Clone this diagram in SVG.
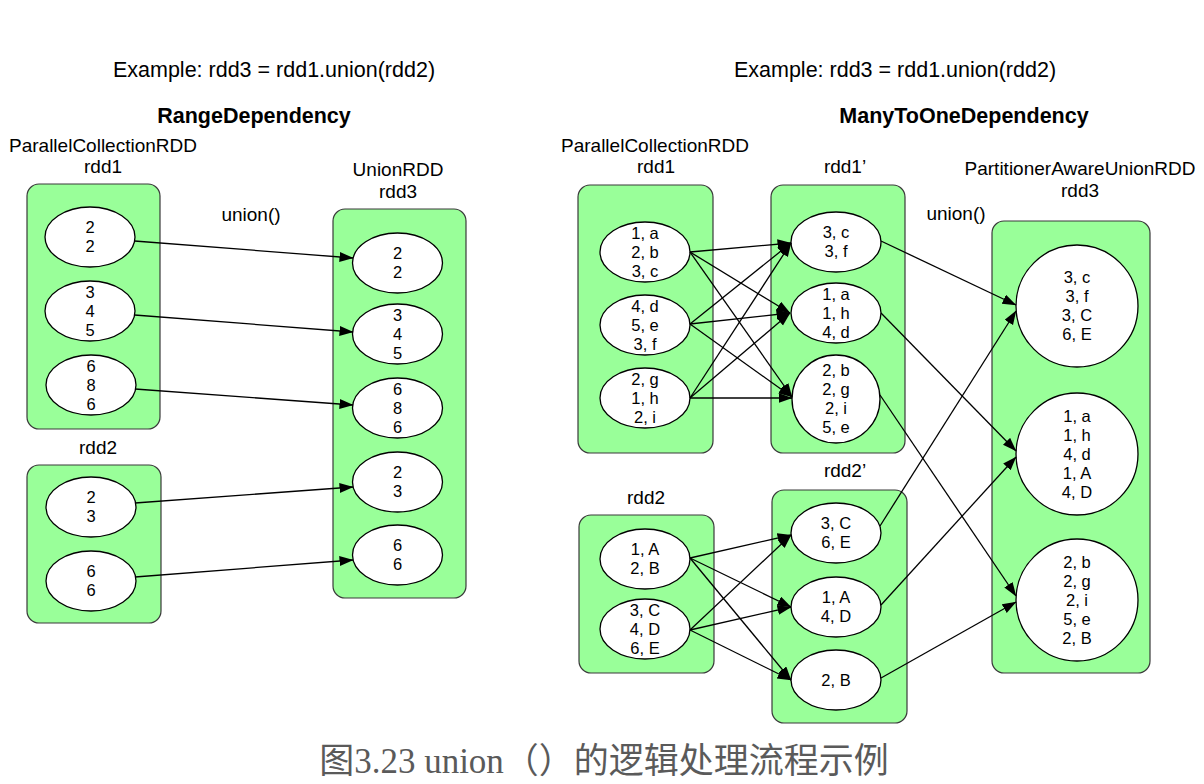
<svg xmlns="http://www.w3.org/2000/svg" width="1204" height="784" viewBox="0 0 1204 784">
<defs>
<marker id="ah" markerUnits="userSpaceOnUse" markerWidth="14" markerHeight="11" refX="13.5" refY="5" orient="auto">
<path d="M0,0 L14,5 L0,10 z" fill="#000"/>
</marker>
<style>
.box{fill:#99ff99;stroke:#3a3a3a;stroke-width:1.2}
.part{fill:#fff;stroke:#000;stroke-width:1.3}
.t{font-family:"Liberation Sans",Arial,sans-serif;fill:#000;text-anchor:middle}
.lbl{font-size:19px}
.ttl{font-size:21.5px}
.bold{font-size:21.5px;font-weight:bold}
.pt{font-size:16.5px}
.cap{font-family:"Liberation Serif","Noto Sans CJK SC",serif;font-size:35px;fill:#5a5a5a;text-anchor:middle}
#connectors line{stroke:#000;stroke-width:1.3;marker-end:url(#ah)}
</style>
</defs>
<rect width="1204" height="784" fill="#fff"/>

<g id="titles">
<text class="t ttl" x="274" y="77">Example: rdd3 = rdd1.union(rdd2)</text>
<text class="t bold" x="254" y="123">RangeDependency</text>
<text class="t ttl" x="895" y="77">Example: rdd3 = rdd1.union(rdd2)</text>
<text class="t bold" x="964" y="123">ManyToOneDependency</text>
<text class="t lbl" x="251" y="221">union()</text>
<text class="t lbl" x="956" y="220">union()</text>
</g>

<!-- LEFT: RangeDependency -->
<g id="L-rdd1">
<text class="t lbl" x="103" y="152">ParallelCollectionRDD</text>
<text class="t lbl" x="103" y="173">rdd1</text>
<rect class="box" x="27" y="184" width="133" height="245" rx="12"/>
</g>
<g id="L-rdd2">
<text class="t lbl" x="98" y="454">rdd2</text>
<rect class="box" x="27" y="465" width="134" height="158" rx="12"/>
</g>
<g id="L-rdd3">
<text class="t lbl" x="398" y="176">UnionRDD</text>
<text class="t lbl" x="398" y="198">rdd3</text>
<rect class="box" x="333" y="209" width="133" height="389" rx="12"/>
</g>

<g id="L-rdd1-p1"><ellipse class="part" cx="90" cy="237" rx="45" ry="30"/><text class="t pt" x="90" y="233">2</text><text class="t pt" x="90" y="252">2</text></g>
<g id="L-rdd1-p2"><ellipse class="part" cx="90" cy="311" rx="45" ry="30"/><text class="t pt" x="90" y="298">3</text><text class="t pt" x="90" y="317">4</text><text class="t pt" x="90" y="336">5</text></g>
<g id="L-rdd1-p3"><ellipse class="part" cx="91" cy="385" rx="45" ry="30"/><text class="t pt" x="91" y="372">6</text><text class="t pt" x="91" y="391">8</text><text class="t pt" x="91" y="410">6</text></g>
<g id="L-rdd2-p1"><ellipse class="part" cx="91" cy="507" rx="45" ry="30"/><text class="t pt" x="91" y="503">2</text><text class="t pt" x="91" y="522">3</text></g>
<g id="L-rdd2-p2"><ellipse class="part" cx="91" cy="581" rx="45" ry="30"/><text class="t pt" x="91" y="577">6</text><text class="t pt" x="91" y="596">6</text></g>
<g id="L-rdd3-p1"><ellipse class="part" cx="397.5" cy="263" rx="45" ry="30"/><text class="t pt" x="397.5" y="259">2</text><text class="t pt" x="397.5" y="278">2</text></g>
<g id="L-rdd3-p2"><ellipse class="part" cx="397.5" cy="334" rx="45" ry="30"/><text class="t pt" x="397.5" y="321">3</text><text class="t pt" x="397.5" y="340">4</text><text class="t pt" x="397.5" y="359">5</text></g>
<g id="L-rdd3-p3"><ellipse class="part" cx="397.5" cy="408" rx="45" ry="30"/><text class="t pt" x="397.5" y="395">6</text><text class="t pt" x="397.5" y="414">8</text><text class="t pt" x="397.5" y="433">6</text></g>
<g id="L-rdd3-p4"><ellipse class="part" cx="397.5" cy="482" rx="45" ry="30"/><text class="t pt" x="397.5" y="478">2</text><text class="t pt" x="397.5" y="497">3</text></g>
<g id="L-rdd3-p5"><ellipse class="part" cx="397.5" cy="555" rx="45" ry="30"/><text class="t pt" x="397.5" y="551">6</text><text class="t pt" x="397.5" y="570">6</text></g>

<!-- RIGHT: ManyToOneDependency -->
<g id="R-rdd1">
<text class="t lbl" x="655" y="152">ParallelCollectionRDD</text>
<text class="t lbl" x="656" y="173">rdd1</text>
<rect class="box" x="578" y="185" width="135" height="268" rx="12"/>
</g>
<g id="R-rdd1p">
<text class="t lbl" x="845" y="173">rdd1’</text>
<rect class="box" x="771" y="185" width="134" height="268" rx="12"/>
</g>
<g id="R-rdd2">
<text class="t lbl" x="646" y="504">rdd2</text>
<rect class="box" x="579" y="515" width="135" height="158" rx="12"/>
</g>
<g id="R-rdd2p">
<text class="t lbl" x="845" y="477">rdd2’</text>
<rect class="box" x="772" y="490" width="135" height="233" rx="12"/>
</g>
<g id="R-rdd3">
<text class="t lbl" x="1080" y="175">PartitionerAwareUnionRDD</text>
<text class="t lbl" x="1080" y="197">rdd3</text>
<rect class="box" x="992" y="221" width="158" height="452" rx="12"/>
</g>

<g id="R-rdd1-p1"><ellipse class="part" cx="645" cy="252" rx="45" ry="30"/><text class="t pt" x="645" y="239">1, a</text><text class="t pt" x="645" y="258">2, b</text><text class="t pt" x="645" y="277">3, c</text></g>
<g id="R-rdd1-p2"><ellipse class="part" cx="645" cy="325" rx="45" ry="30"/><text class="t pt" x="645" y="312">4, d</text><text class="t pt" x="645" y="331">5, e</text><text class="t pt" x="645" y="350">3, f</text></g>
<g id="R-rdd1-p3"><ellipse class="part" cx="645" cy="398" rx="45" ry="30"/><text class="t pt" x="645" y="385">2, g</text><text class="t pt" x="645" y="404">1, h</text><text class="t pt" x="645" y="423">2, i</text></g>

<g id="R-rdd1p-p1"><ellipse class="part" cx="836" cy="242" rx="45" ry="30"/><text class="t pt" x="836" y="238">3, c</text><text class="t pt" x="836" y="257">3, f</text></g>
<g id="R-rdd1p-p2"><ellipse class="part" cx="836" cy="313" rx="45" ry="30"/><text class="t pt" x="836" y="300">1, a</text><text class="t pt" x="836" y="319">1, h</text><text class="t pt" x="836" y="338">4, d</text></g>
<g id="R-rdd1p-p3"><ellipse class="part" cx="836" cy="399" rx="44" ry="44"/><text class="t pt" x="836" y="376">2, b</text><text class="t pt" x="836" y="395">2, g</text><text class="t pt" x="836" y="414">2, i</text><text class="t pt" x="836" y="433">5, e</text></g>

<g id="R-rdd2-p1"><ellipse class="part" cx="645" cy="559" rx="45" ry="30"/><text class="t pt" x="645" y="555">1, A</text><text class="t pt" x="645" y="574">2, B</text></g>
<g id="R-rdd2-p2"><ellipse class="part" cx="645" cy="629" rx="45" ry="30"/><text class="t pt" x="645" y="616">3, C</text><text class="t pt" x="645" y="635">4, D</text><text class="t pt" x="645" y="654">6, E</text></g>

<g id="R-rdd2p-p1"><ellipse class="part" cx="836" cy="533" rx="45" ry="30"/><text class="t pt" x="836" y="529">3, C</text><text class="t pt" x="836" y="548">6, E</text></g>
<g id="R-rdd2p-p2"><ellipse class="part" cx="836" cy="607" rx="45" ry="30"/><text class="t pt" x="836" y="603">1, A</text><text class="t pt" x="836" y="622">4, D</text></g>
<g id="R-rdd2p-p3"><ellipse class="part" cx="836" cy="680" rx="45" ry="30"/><text class="t pt" x="836" y="686">2, B</text></g>

<g id="R-rdd3-p1"><circle class="part" cx="1077" cy="306" r="61"/><text class="t pt" x="1077" y="283">3, c</text><text class="t pt" x="1077" y="302">3, f</text><text class="t pt" x="1077" y="321">3, C</text><text class="t pt" x="1077" y="340">6, E</text></g>
<g id="R-rdd3-p2"><circle class="part" cx="1077" cy="454" r="61"/><text class="t pt" x="1077" y="422">1, a</text><text class="t pt" x="1077" y="441">1, h</text><text class="t pt" x="1077" y="460">4, d</text><text class="t pt" x="1077" y="479">1, A</text><text class="t pt" x="1077" y="498">4, D</text></g>
<g id="R-rdd3-p3"><circle class="part" cx="1077" cy="600" r="61"/><text class="t pt" x="1077" y="568">2, b</text><text class="t pt" x="1077" y="587">2, g</text><text class="t pt" x="1077" y="606">2, i</text><text class="t pt" x="1077" y="625">5, e</text><text class="t pt" x="1077" y="644">2, B</text></g>

<g id="connectors">
<line x1="134.5" y1="241" x2="353" y2="258"/>
<line x1="134.5" y1="315" x2="353" y2="332"/>
<line x1="135" y1="389" x2="353" y2="405"/>
<line x1="135" y1="503" x2="353" y2="487"/>
<line x1="135" y1="577" x2="353" y2="560"/>

<line x1="690" y1="252" x2="791" y2="243"/>
<line x1="690" y1="252" x2="790" y2="313"/>
<line x1="690" y1="252" x2="792" y2="397"/>
<line x1="690" y1="324" x2="791" y2="243"/>
<line x1="690" y1="324" x2="790" y2="313"/>
<line x1="690" y1="324" x2="792" y2="397"/>
<line x1="690" y1="398" x2="791" y2="243"/>
<line x1="690" y1="398" x2="790" y2="313"/>
<line x1="690" y1="398" x2="792" y2="398"/>

<line x1="690" y1="558" x2="791" y2="535"/>
<line x1="690" y1="558" x2="791" y2="607"/>
<line x1="690" y1="558" x2="791" y2="680"/>
<line x1="690" y1="630" x2="791" y2="535"/>
<line x1="690" y1="630" x2="791" y2="607"/>
<line x1="690" y1="630" x2="791" y2="680"/>

<line x1="881" y1="241" x2="1016" y2="305"/>
<line x1="881" y1="313" x2="1016" y2="451"/>
<line x1="880" y1="395" x2="1016" y2="596"/>
<line x1="880" y1="526" x2="1016" y2="311"/>
<line x1="881" y1="605" x2="1016" y2="457"/>
<line x1="881" y1="678" x2="1016" y2="602"/>
</g>

<text class="cap" x="604" y="773">图3.23 union（）的逻辑处理流程示例</text>
</svg>
